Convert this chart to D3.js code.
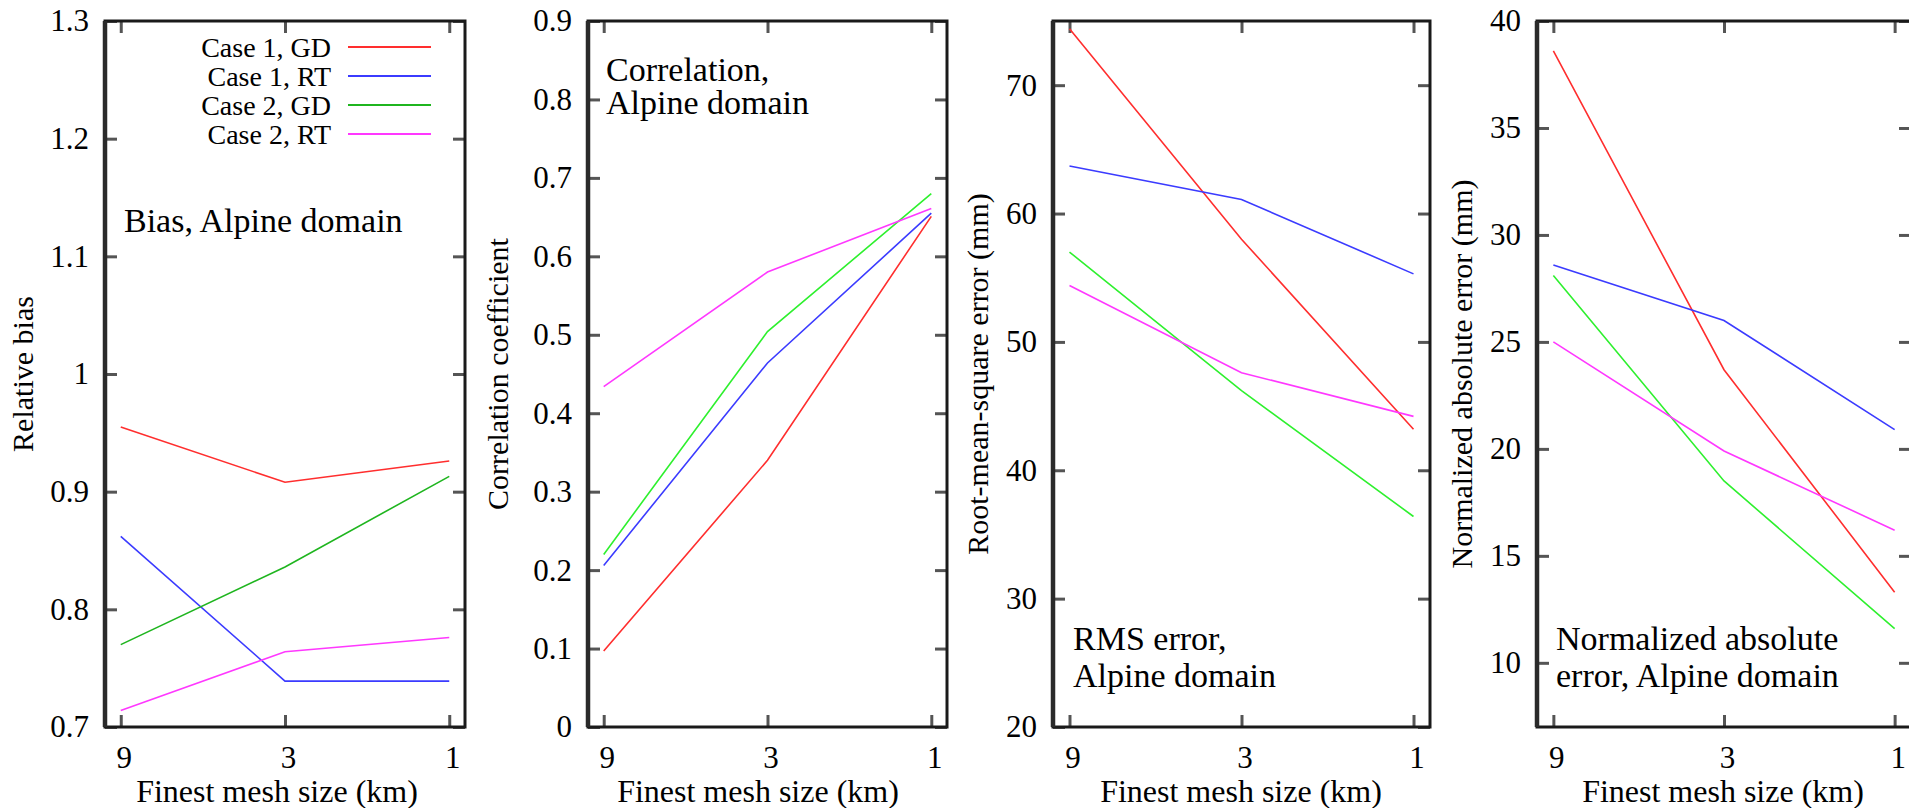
<!DOCTYPE html>
<html>
<head>
<meta charset="utf-8">
<script src="https://cdn.jsdelivr.net/npm/d3@7"></script>
</head>
<body style="margin:0;background:#fff">
<svg id="chart" width="1909" height="808"></svg>
<script>
// Finest nested-mesh size of each run (km), plotted on a reversed log axis
const meshSizes = [9, 3, 1];
const meshTickLabels = ["9", "3", "1"];

const seriesNames = ["Case 1, GD", "Case 1, RT", "Case 2, GD", "Case 2, RT"];

// One row per series, one value per mesh size (9, 3, 1 km)
const biasValues = [
  [0.955, 0.908, 0.926],
  [0.862, 0.739, 0.739],
  [0.770, 0.836, 0.913],
  [0.714, 0.764, 0.776]
];
const correlationValues = [
  [0.097, 0.340, 0.651],
  [0.206, 0.464, 0.655],
  [0.220, 0.504, 0.680],
  [0.434, 0.580, 0.661]
];
const rmsValues = [
  [74.4, 58.0, 43.2],
  [63.7, 61.1, 55.3],
  [57.0, 46.2, 36.4],
  [54.4, 47.6, 44.2]
];
const maeValues = [
  [38.6, 23.7, 13.3],
  [28.6, 26.0, 20.9],
  [28.1, 18.5, 11.6],
  [25.0, 19.9, 16.2]
];

// Y-axis tick values and their printed labels
const biasTicks = [0.7, 0.8, 0.9, 1.0, 1.1, 1.2, 1.3];
const biasTickLabels = ["0.7", "0.8", "0.9", "1", "1.1", "1.2", "1.3"];
const corrTicks = [0, 0.1, 0.2, 0.3, 0.4, 0.5, 0.6, 0.7, 0.8, 0.9];
const corrTickLabels = ["0", "0.1", "0.2", "0.3", "0.4", "0.5", "0.6", "0.7", "0.8", "0.9"];
const rmsTicks = [20, 30, 40, 50, 60, 70];
const rmsTickLabels = ["20", "30", "40", "50", "60", "70"];
const maeTicks = [10, 15, 20, 25, 30, 35, 40];
const maeTickLabels = ["10", "15", "20", "25", "30", "35", "40"];

const xTitle = "Finest mesh size (km)";

// Panel definitions: data, axis domain, titles and notes
const panels = [
  { values: biasValues, domain: [0.7, 1.3], ticks: biasTicks, tickLabels: biasTickLabels,
    yTitle: "Relative bias", note: ["Bias, Alpine domain"] },
  { values: correlationValues, domain: [0, 0.9], ticks: corrTicks, tickLabels: corrTickLabels,
    yTitle: "Correlation coefficient", note: ["Correlation,", "Alpine domain"] },
  { values: rmsValues, domain: [20, 75], ticks: rmsTicks, tickLabels: rmsTickLabels,
    yTitle: "Root-mean-square error (mm)", note: ["RMS error,", "Alpine domain"] },
  { values: maeValues, domain: [7, 40], ticks: maeTicks, tickLabels: maeTickLabels,
    yTitle: "Normalized absolute error (mm)", note: ["Normalized absolute", "error, Alpine domain"] }
];

// Geometry of each panel
const layout = [
  { x0: 105,  x1: 465,  yTitleX: 33,   titleX: 277,  noteX: 124,  noteY: [232] },
  { x0: 588,  x1: 947,  yTitleX: 508,  titleX: 758,  noteX: 606,  noteY: [81, 114] },
  { x0: 1053, x1: 1430, yTitleX: 988,  titleX: 1241, noteX: 1073, noteY: [650, 687] },
  { x0: 1537, x1: 1911, yTitleX: 1472, titleX: 1723, noteX: 1556, noteY: [650, 687] }
];
const plotTop = 21, plotBottom = 727;
const FONT = "Liberation Serif";

// Line colours per panel (the first panel uses a darker green)
const seriesColors = [
  ["#ff2e2e", "#3b3bff", "#1fb51f", "#ff38ff"],
  ["#ff2e2e", "#3b3bff", "#2ef02e", "#ff38ff"],
  ["#ff2e2e", "#3b3bff", "#2ef02e", "#ff38ff"],
  ["#ff2e2e", "#3b3bff", "#2ef02e", "#ff38ff"]
];

const svg = d3.select("#chart");

// apply the serif face to a text selection
const serif = (sel, size) => sel
  .attr("font-family", FONT)
  .style("font-family", `"${FONT}"`)
  .style("font-size", size + "px")
  .attr("fill", "#000");

panels.forEach((p, i) => {
  const L = layout[i];
  const x = d3.scaleLog().domain([10, 0.9]).range([L.x0, L.x1]);
  const y = d3.scaleLinear().domain(p.domain).range([plotBottom, plotTop]);
  const g = svg.append("g");

  const tickStyle = sel => {
    sel.attr("font-family", FONT);
    sel.select(".domain").remove();
    sel.selectAll(".tick line").attr("stroke", "#555").attr("stroke-width", 3);
  };
  const noLabels = sel => sel.selectAll(".tick text").remove();

  // left axis with labels, right axis ticks only
  g.append("g").attr("transform", `translate(${L.x0},0)`)
    .call(d3.axisLeft(y).tickValues(p.ticks)
      .tickFormat((d, k) => p.tickLabels[k])
      .tickSizeInner(-12).tickSizeOuter(0).tickPadding(16))
    .call(tickStyle)
    .call(s => serif(s.selectAll("text"), 31));
  g.append("g").attr("transform", `translate(${L.x1},0)`)
    .call(d3.axisRight(y).tickValues(p.ticks)
      .tickSizeInner(-12).tickSizeOuter(0))
    .call(tickStyle)
    .call(noLabels);

  // bottom axis with labels, top axis ticks only
  g.append("g").attr("transform", `translate(0,${plotBottom})`)
    .call(d3.axisBottom(x).tickValues(meshSizes)
      .tickFormat((d, k) => meshTickLabels[k])
      .tickSizeInner(-12).tickSizeOuter(0).tickPadding(19))
    .call(tickStyle)
    .call(s => serif(s.selectAll("text"), 31).attr("dx", 3));
  g.append("g").attr("transform", `translate(0,${plotTop})`)
    .call(d3.axisTop(x).tickValues(meshSizes)
      .tickSizeInner(-12).tickSizeOuter(0))
    .call(tickStyle)
    .call(noLabels);

  // data lines
  const line = d3.line().x((d, k) => x(meshSizes[k])).y(d => y(d));
  g.selectAll("path.series").data(p.values).join("path")
    .attr("class", "series")
    .attr("d", line)
    .attr("fill", "none")
    .attr("stroke", (d, k) => seriesColors[i][k])
    .attr("stroke-width", 1.6);

  // frame
  g.append("rect")
    .attr("x", L.x0).attr("y", plotTop)
    .attr("width", L.x1 - L.x0).attr("height", plotBottom - plotTop)
    .attr("fill", "none").attr("stroke", "#1a1a1a").attr("stroke-width", 3);
  g.append("line")
    .attr("x1", L.x0).attr("x2", L.x0)
    .attr("y1", plotTop).attr("y2", plotBottom)
    .attr("stroke", "#2a2a2a").attr("stroke-width", 4.5);

  // axis titles
  serif(g.append("text"), 32)
    .attr("x", L.titleX).attr("y", 802)
    .attr("text-anchor", "middle")
    .text(xTitle);
  serif(g.append("text"), 30)
    .attr("transform", `translate(${L.yTitleX},${(plotTop + plotBottom) / 2}) rotate(-90)`)
    .attr("text-anchor", "middle")
    .text(p.yTitle);

  // in-panel note
  p.note.forEach((t, k) => {
    serif(g.append("text"), 34)
      .attr("x", L.noteX).attr("y", L.noteY[k])
      .text(t);
  });

  // legend (first panel only)
  if (i === 0) {
    const leg = g.append("g");
    seriesNames.forEach((name, k) => {
      const yy = 47 + k * 29;
      serif(leg.append("text"), 28)
        .attr("x", 331).attr("y", yy + 10)
        .attr("text-anchor", "end")
        .text(name);
      leg.append("line")
        .attr("x1", 348).attr("x2", 431)
        .attr("y1", yy).attr("y2", yy)
        .attr("stroke", seriesColors[i][k])
        .attr("stroke-width", 2);
    });
  }
});
</script>
</body>
</html>
